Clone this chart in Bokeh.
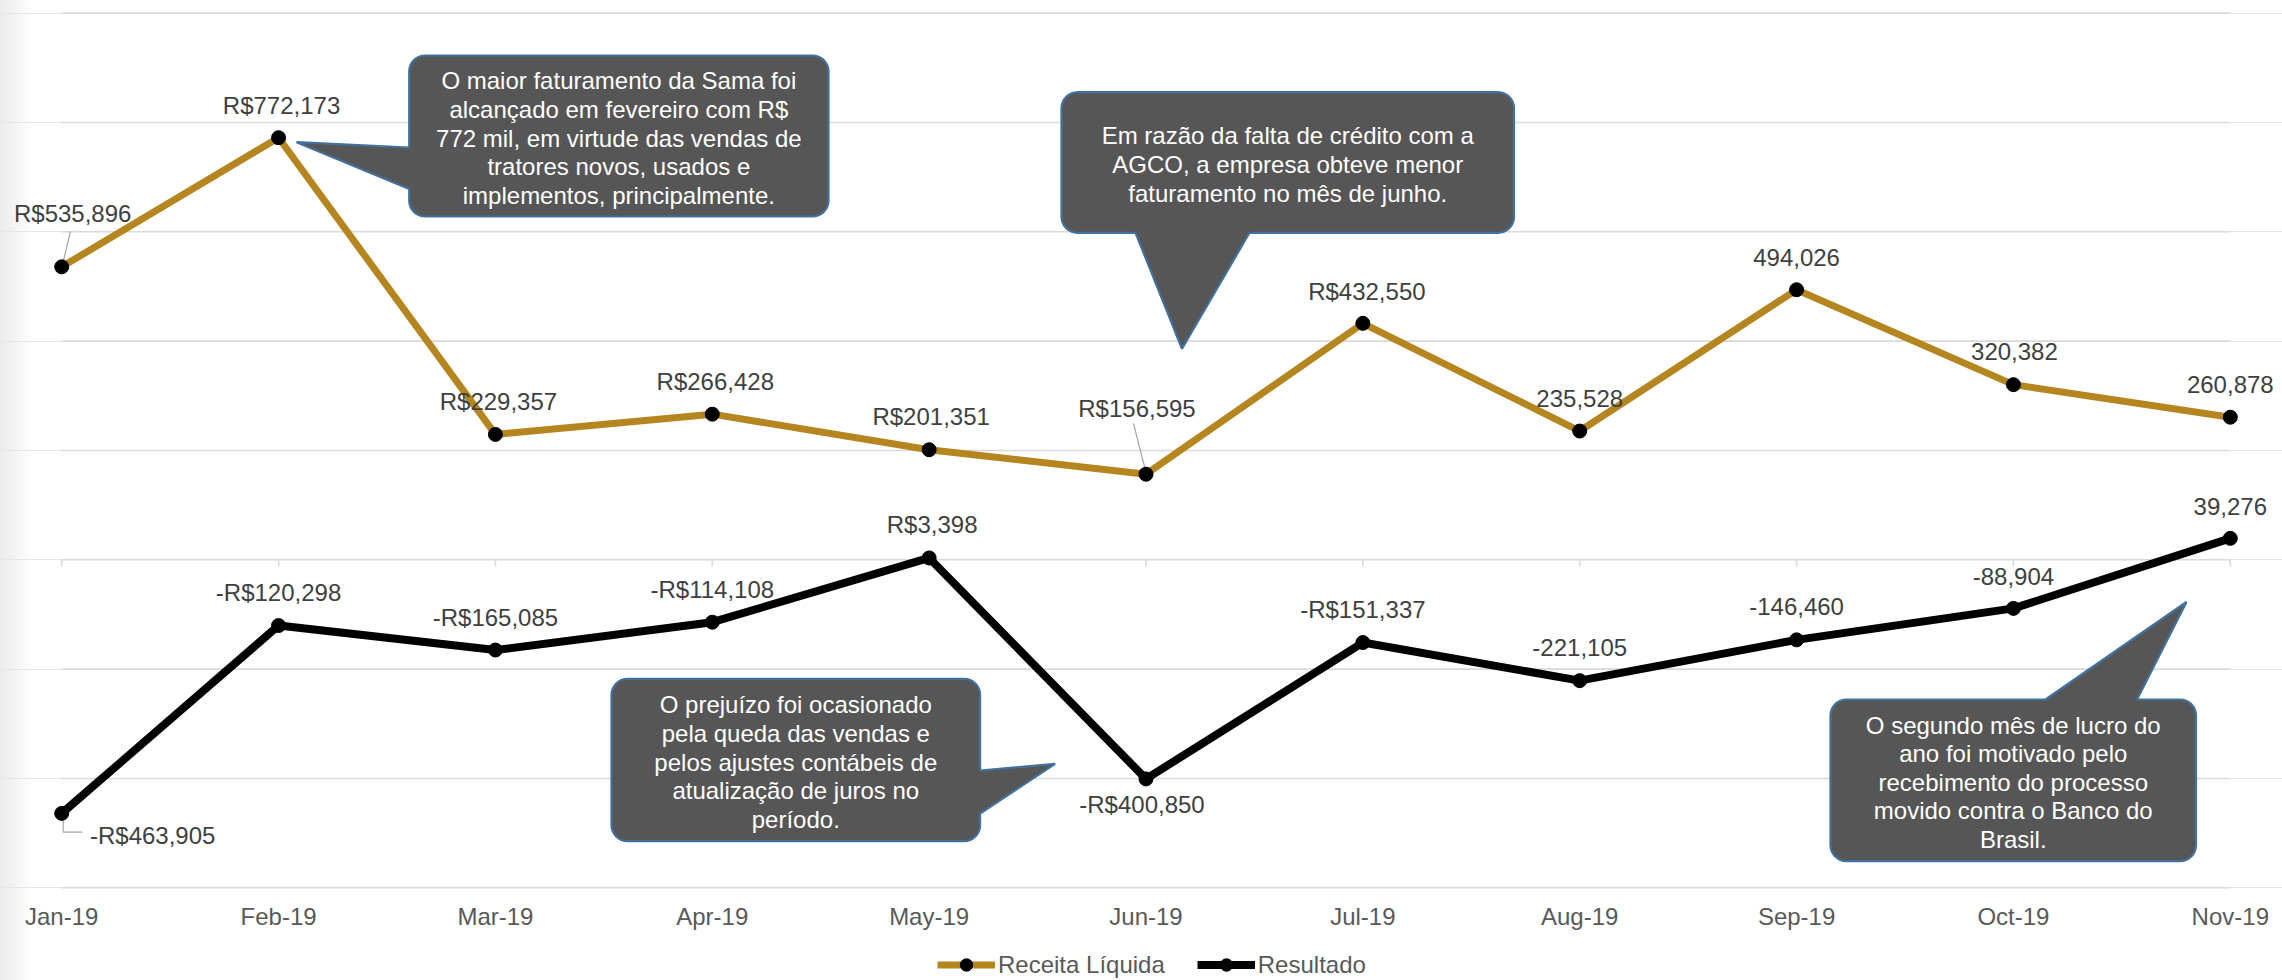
import math
from bokeh.plotting import figure
from bokeh.layouts import column
from bokeh.models import (Range1d, FixedTicker, Legend, LegendItem,
                          ColumnDataSource)
from bokeh.core.properties import value
from bokeh.embed import file_html
from bokeh.resources import INLINE

# ---------------- data ----------------
months = ["Jan-19", "Feb-19", "Mar-19", "Apr-19", "May-19", "Jun-19",
          "Jul-19", "Aug-19", "Sep-19", "Oct-19", "Nov-19"]
receita = [535896, 772173, 229357, 266428, 201351, 156595,
           432550, 235528, 494026, 320382, 260878]
resultado = [-463905, -120298, -165085, -114108, 3398, -400850,
             -151337, -221105, -146460, -88904, 39276]
receita_labels = ["R$535,896", "R$772,173", "R$229,357", "R$266,428",
                  "R$201,351", "R$156,595", "R$432,550", "235,528",
                  "494,026", "320,382", "260,878"]
resultado_labels = ["-R$463,905", "-R$120,298", "-R$165,085", "-R$114,108",
                    "R$3,398", "-R$400,850", "-R$151,337", "-221,105",
                    "-146,460", "-88,904", "39,276"]
series_names = ["Receita Líquida", "Resultado"]
grid_values = [-600000, -400000, -200000, 0, 200000, 400000, 600000,
               800000, 1000000]

callout_texts = [
    ["O maior faturamento da Sama foi", "alcançado em fevereiro com R$",
     "772 mil, em virtude das vendas de", "tratores novos, usados e",
     "implementos, principalmente."],
    ["Em razão da falta de crédito com a", "AGCO, a empresa obteve menor",
     "faturamento no mês de junho."],
    ["O prejuízo foi ocasionado", "pela queda das vendas e",
     "pelos ajustes contábeis de", "atualização de juros no", "período."],
    ["O segundo mês de lucro do", "ano foi motivado pelo",
     "recebimento do processo", "movido contra o Banco do", "Brasil."],
]

# ---------------- layout / style ----------------
W = 2282
H1, H2 = 940, 40                 # main chart, legend strip
FRAME_B = 892                    # frame bottom (px from top)
MB = H1 - FRAME_B
N = len(months)
PX_FIRST, PX_LAST = 61.2, 2229.8
PY_ZERO, PY_STEP, STEP = 559.3, 109.33, 200000

PXU = (PX_LAST - PX_FIRST) / (N - 1)
PYU = PY_STEP / STEP
X_START = -PX_FIRST / PXU
X_END = (N - 1) + (W - PX_LAST) / PXU
Y_END = PY_ZERO / PYU
Y_START = -(FRAME_B - PY_ZERO) / PYU

FONT = value("Liberation Sans")
GOLD = "#B5861F"
BLACK = "#000000"
GRID = "#D9D9D9"
STRIP = {"background": "linear-gradient(to right, #ebebeb 0px, #f6f6f6 18px, #ffffff 34px)"}


def px2x(px):
    return (px - PX_FIRST) / PXU


def py2y(py):
    return (PY_ZERO - py) / PYU


def dpx(d):
    return d / PXU


def dpy(d):
    return -d / PYU


rec_off = [(11, -53.5), (3, -32), (3, -33), (3, -33), (2, -33), (-9, -66),
           (4, -32), (0, -33), (0, -32), (1, -33), (0, -33)]
res_off = [(91, 22), (0, -33), (0, -33), (0, -33), (3, -33), (-4, 26),
           (0, -33), (0, -33), (0, -33), (0, -32), (0, -32)]

xs = list(range(N))
xr = Range1d(X_START, X_END)

p = figure(width=W, height=H1, output_backend="svg", toolbar_location=None,
           x_range=xr, y_range=Range1d(Y_START, Y_END),
           y_axis_location=None, title=None,
           min_border_left=0, min_border_right=0,
           min_border_top=0, min_border_bottom=MB)
p.border_fill_color = None
p.background_fill_color = None
p.outline_line_color = None
p.styles = STRIP
p.xgrid.visible = False

p.segment(x0=[xs[0]] * len(grid_values), y0=grid_values,
          x1=[xs[-1]] * len(grid_values), y1=grid_values,
          line_color=GRID, line_width=1.6)

ax = p.xaxis[0]
ax.ticker = FixedTicker(ticks=xs)
ax.major_label_overrides = {i: m for i, m in enumerate(months)}
ax.axis_line_color = None
ax.major_tick_line_color = None
ax.minor_tick_line_color = None
ax.major_tick_out = 0
ax.major_tick_in = 0
ax.major_label_standoff = 10
ax.major_label_text_font = "Liberation Sans"
ax.major_label_text_font_size = "24px"
ax.major_label_text_color = "#595959"

tick_len = dpy(6.7)
p.segment(x0=xs, y0=[0] * N, x1=xs, y1=[tick_len] * N,
          line_color=GRID, line_width=1.6)

lead = "#A6A6A6"
p.line(x=[px2x(70), px2x(63)], y=[py2y(231), py2y(260)], line_color=lead, line_width=1.2)
p.line(x=[px2x(1133), px2x(1145)], y=[py2y(423), py2y(470)], line_color=lead, line_width=1.2)
p.line(x=[px2x(62.7), px2x(62.7), px2x(81.7)],
       y=[py2y(818), py2y(831.7), py2y(831.7)], line_color=lead, line_width=1.2)

src_r = ColumnDataSource(dict(x=xs, y=receita))
src_s = ColumnDataSource(dict(x=xs, y=resultado))
line_kw = [dict(line_color=GOLD, line_width=7, line_join="round"),
           dict(line_color=BLACK, line_width=8, line_join="round")]
mark_kw = dict(size=14, fill_color=BLACK, line_color=BLACK)
p.line("x", "y", source=src_r, **line_kw[0])
p.scatter("x", "y", source=src_r, **mark_kw)
p.line("x", "y", source=src_s, **line_kw[1])
p.scatter("x", "y", source=src_s, **mark_kw)

lab_r = ColumnDataSource(dict(
    x=[x + dpx(o[0]) for x, o in zip(xs, rec_off)],
    y=[v + dpy(o[1]) for v, o in zip(receita, rec_off)],
    t=receita_labels))
lab_s = ColumnDataSource(dict(
    x=[x + dpx(o[0]) for x, o in zip(xs, res_off)],
    y=[v + dpy(o[1]) for v, o in zip(resultado, res_off)],
    t=resultado_labels))
for s in (lab_r, lab_s):
    p.text("x", "y", text="t", source=s, text_font=FONT, text_font_size="24px",
           text_color="#404040", text_align="center", text_baseline="middle")


def callout_poly(L, T, R, B, r, side, b1, b2, tip, n=8):
    pts = []

    def arc(cx, cy, a0, a1):
        for k in range(n + 1):
            a = math.radians(a0 + (a1 - a0) * k / n)
            pts.append((cx + r * math.cos(a), cy + r * math.sin(a)))

    arc(L + r, T + r, 180, 270)
    if side == "top":
        pts += [(b1, T), tip, (b2, T)]
    arc(R - r, T + r, 270, 360)
    if side == "right":
        pts += [(R, b1), tip, (R, b2)]
    arc(R - r, B - r, 0, 90)
    if side == "bottom":
        pts += [(b2, B), tip, (b1, B)]
    arc(L + r, B - r, 90, 180)
    if side == "left":
        pts += [(L, b2), tip, (L, b1)]
    return [px2x(a) for a, _ in pts], [py2y(b) for _, b in pts]


callouts = [
    dict(box=(408.7, 55, 828, 216), side="left", b=(147, 188.5), tip=(296, 141.7)),
    dict(box=(1061, 91.7, 1513.5, 232.3), side="bottom", b=(1135, 1249), tip=(1181.5, 348.3)),
    dict(box=(611, 678.3, 979.6, 840.7), side="right", b=(770, 813), tip=(1054.6, 763.3)),
    dict(box=(1830, 699, 2195.5, 860.7), side="top", b=(2045, 2136.5), tip=(2186, 601.5)),
]
LINE_H = 28.6
for c, lines in zip(callouts, callout_texts):
    L, T, R, B = c["box"]
    px_, py_ = callout_poly(L, T, R, B, 16, c["side"], c["b"][0], c["b"][1], c["tip"])
    p.patch(px_, py_, fill_color="#565656", line_color="#41719C", line_width=2.2)
    cx = (L + R) / 2
    cy = (T + B) / 2 + 2
    n = len(lines)
    ty = [py2y(cy + (i - (n - 1) / 2) * LINE_H) for i in range(n)]
    p.text(x=[px2x(cx)] * n, y=ty, text=lines, text_font=FONT, text_font_size="24px",
           text_color="#FFFFFF", text_align="center", text_baseline="middle")

# ---------------- legend strip ----------------
p2 = figure(width=W, height=H2, output_backend="svg", toolbar_location=None,
            x_range=xr, y_range=Range1d(5e6, 6e6),   # series kept out of view
            x_axis_location=None, y_axis_location=None, title=None,
            min_border_left=0, min_border_right=0,
            min_border_top=0, min_border_bottom=0)
p2.border_fill_color = None
p2.background_fill_color = None
p2.outline_line_color = None
p2.styles = STRIP
p2.grid.visible = False
r1 = [p2.line("x", "y", source=src_r, **line_kw[0]),
      p2.scatter("x", "y", source=src_r, **mark_kw)]
r2 = [p2.line("x", "y", source=src_s, **line_kw[1]),
      p2.scatter("x", "y", source=src_s, **mark_kw)]
legend = Legend(items=[LegendItem(label=series_names[0], renderers=r1),
                       LegendItem(label=series_names[1], renderers=r2)],
                location=(937, 0), orientation="horizontal",
                glyph_width=58, glyph_height=31, label_standoff=3, spacing=32,
                padding=0, margin=0, border_line_color=None,
                background_fill_alpha=0,
                label_text_font="Liberation Sans", label_text_font_size="24px",
                label_text_color="#595959")
p2.add_layout(legend)

open("out.html", "w").write(file_html(column(p, p2, spacing=0), INLINE))
